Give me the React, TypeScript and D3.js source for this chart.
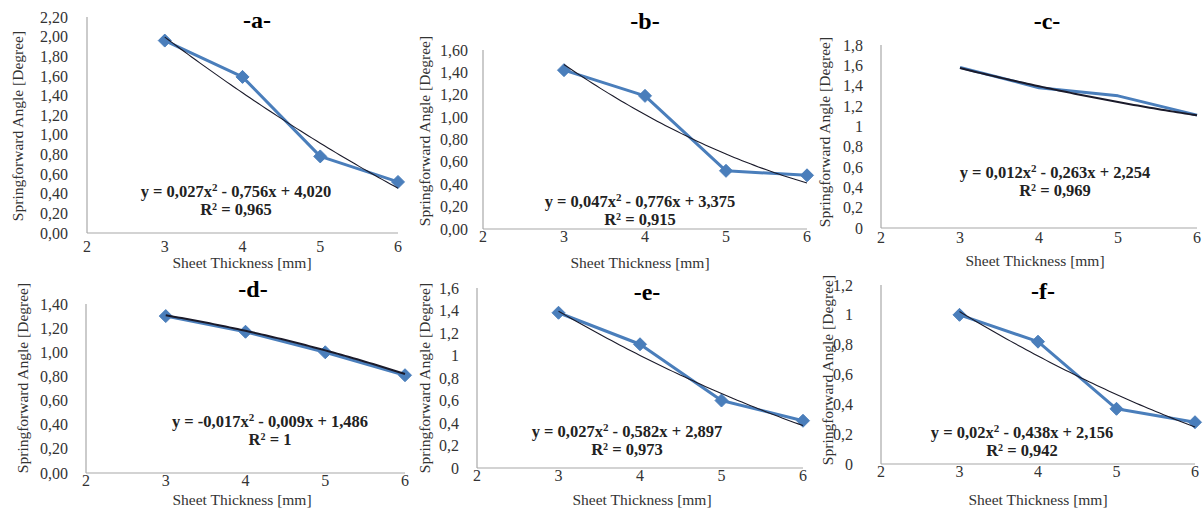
import React from 'react';
import * as d3 from 'd3';

const width = 1203;
const height = 509;

// sheet thickness [mm]
const thickness = [3, 4, 5, 6];
const xTicks = [2, 3, 4, 5, 6];

// springforward angle [degree] per panel
const springA = [1.96, 1.59, 0.78, 0.52];
const springB = [1.42, 1.19, 0.52, 0.48];
const springC = [1.58, 1.38, 1.3, 1.11];
const springD = [1.3, 1.17, 1.0, 0.81];
const springE = [1.38, 1.1, 0.6, 0.42];
const springF = [1.0, 0.82, 0.37, 0.28];

// polynomial trendline coefficients [a, b, c] for y = ax^2 + bx + c
const fitA = [0.027, -0.756, 4.02];
const fitB = [0.047, -0.776, 3.375];
const fitC = [0.012, -0.263, 2.254];
const fitD = [-0.017, -0.009, 1.486];
const fitE = [0.027, -0.582, 2.897];
const fitF = [0.02, -0.438, 2.156];

// equation labels
const eqA = ['y = 0,027x', ' - 0,756x + 4,020', '0,965'];
const eqB = ['y = 0,047x', ' - 0,776x + 3,375', '0,915'];
const eqC = ['y = 0,012x', ' - 0,263x + 2,254', '0,969'];
const eqD = ['y = -0,017x', ' - 0,009x + 1,486', '1'];
const eqE = ['y = 0,027x', ' - 0,582x + 2,897', '0,973'];
const eqF = ['y = 0,02x', ' - 0,438x + 2,156', '0,942'];

// y tick labels
const ticks220 = ['0,00', '0,20', '0,40', '0,60', '0,80', '1,00', '1,20', '1,40', '1,60', '1,80', '2,00', '2,20'];
const ticks160 = ['0,00', '0,20', '0,40', '0,60', '0,80', '1,00', '1,20', '1,40', '1,60'];
const ticks18 = ['0', '0,2', '0,4', '0,6', '0,8', '1', '1,2', '1,4', '1,6', '1,8'];
const ticks140 = ['0,00', '0,20', '0,40', '0,60', '0,80', '1,00', '1,20', '1,40'];
const ticks16 = ['0', '0,2', '0,4', '0,6', '0,8', '1', '1,2', '1,4', '1,6'];
const ticks12 = ['0', '0,2', '0,4', '0,6', '0,8', '1', '1,2'];

const blue = '#4a7ebb';
const axisColor = '#a8a8a8';
const font = '"Liberation Serif", "Times New Roman", serif';

const panels = [
  { name: '-a-', values: springA, fit: fitA, eq: eqA, ticks: ticks220, yMax: 2.2, markers: true, trendW: 1.1,
    x0: 87, x1: 398, top: 17, bottom: 233, tickRight: 68, tickDy: 19, titleX: 257, titleY: 28,
    yLabelX: 18, yLabelY: 126, eqX: 236, eqY: 197, xLabelX: 242, xLabelY: 268 },
  { name: '-b-', values: springB, fit: fitB, eq: eqB, ticks: ticks160, yMax: 1.6, markers: true, trendW: 1.1,
    x0: 483, x1: 807, top: 50, bottom: 229, tickRight: 468, tickDy: 13, titleX: 645, titleY: 29,
    yLabelX: 425, yLabelY: 131, eqX: 640, eqY: 207, xLabelX: 640, xLabelY: 268 },
  { name: '-c-', values: springC, fit: fitC, eq: eqC, ticks: ticks18, yMax: 1.8, markers: false, trendW: 2,
    x0: 881, x1: 1197, top: 45, bottom: 228, tickRight: 863, tickDy: 15, titleX: 1047, titleY: 29,
    yLabelX: 825, yLabelY: 132, eqX: 1055, eqY: 178, xLabelX: 1035, xLabelY: 266 },
  { name: '-d-', values: springD, fit: fitD, eq: eqD, ticks: ticks140, yMax: 1.4, markers: true, trendW: 2,
    x0: 86, x1: 405, top: 304, bottom: 473, tickRight: 68, tickDy: 13, titleX: 253, titleY: 297,
    yLabelX: 23, yLabelY: 378, eqX: 270, eqY: 427, xLabelX: 242, xLabelY: 505 },
  { name: '-e-', values: springE, fit: fitE, eq: eqE, ticks: ticks16, yMax: 1.6, markers: true, trendW: 1.1,
    x0: 477, x1: 803, top: 288, bottom: 468, tickRight: 459, tickDy: 13, titleX: 647, titleY: 300,
    yLabelX: 425, yLabelY: 378, eqX: 627, eqY: 437, xLabelX: 642, xLabelY: 505 },
  { name: '-f-', values: springF, fit: fitF, eq: eqF, ticks: ticks12, yMax: 1.2, markers: true, trendW: 1.1,
    x0: 881, x1: 1195, top: 285, bottom: 464, tickRight: 853, tickDy: 13, titleX: 1043, titleY: 299,
    yLabelX: 828, yLabelY: 370, eqX: 1022, eqY: 438, xLabelX: 1038, xLabelY: 505 },
];

const diamond = 'M0,-6.5L6.5,0L0,6.5L-6.5,0Z';

const Panel = ({ p }: { p: any }) => {
  const x = d3.scaleLinear().domain([2, 6]).range([p.x0, p.x1]);
  const y = d3.scaleLinear().domain([0, p.yMax]).range([p.bottom, p.top]);
  const step = p.yMax / (p.ticks.length - 1);

  const line = d3.line<number>()
    .x((_, i) => x(thickness[i]))
    .y((d) => y(d));

  const [a, b, c] = p.fit;
  const trendXs = d3.range(3, 6.001, 0.05);
  const trend = d3.line<number>()
    .x((t) => x(t))
    .y((t) => y(a * t * t + b * t + c));

  return (
    <g>
      <line x1={p.x0} x2={p.x0} y1={p.top} y2={p.bottom} stroke={axisColor} strokeWidth={1.2} />
      <line x1={p.x0} x2={p.x1} y1={p.bottom} y2={p.bottom} stroke={axisColor} strokeWidth={1.2} />
      {p.ticks.map((t: string, i: number) => (
        <text key={t} x={p.tickRight} y={y(i * step)} dy="0.35em" textAnchor="end"
          fontSize={16} fill="#333">{t}</text>
      ))}
      {xTicks.map((t) => (
        <text key={t} x={x(t)} y={p.bottom + p.tickDy} textAnchor="middle" fontSize={16} fill="#333">{t}</text>
      ))}
      <path d={line(p.values) || ''} fill="none" stroke={blue} strokeWidth={3} strokeLinejoin="round" />
      {p.markers && p.values.map((v: number, i: number) => (
        <path key={i} d={diamond} transform={`translate(${x(thickness[i])},${y(v)})`}
          fill={blue} stroke={blue} strokeWidth={1} strokeLinejoin="round" />
      ))}
      <path d={trend(trendXs) || ''} fill="none" stroke="#1a1a2a" strokeWidth={p.trendW} />
      <text x={p.titleX} y={p.titleY} textAnchor="middle" fontSize={24} fontWeight="bold" fill="#000">{p.name}</text>
      <text transform={`translate(${p.yLabelX},${p.yLabelY}) rotate(-90)`} textAnchor="middle"
        dy="0.35em" fontSize={15.5} fill="#333">Springforward Angle [Degree]</text>
      <text x={p.xLabelX} y={p.xLabelY} textAnchor="middle" fontSize={15.5} fill="#333">Sheet Thickness [mm]</text>
      <text x={p.eqX} y={p.eqY} textAnchor="middle" fontSize={16.5} fontWeight="bold" fill="#222">
        {p.eq[0]}<tspan dy={-6} fontSize={11}>2</tspan><tspan dy={6}>{p.eq[1]}</tspan>
      </text>
      <text x={p.eqX} y={p.eqY + 18} textAnchor="middle" fontSize={16.5} fontWeight="bold" fill="#222">
        R<tspan dy={-5} fontSize={10}>2</tspan><tspan dy={5}>{' = ' + p.eq[2]}</tspan>
      </text>
    </g>
  );
};

const App = () => (
  <svg width={width} height={height} style={{ position: 'absolute', left: 0, top: 0, background: '#fff' }}
    fontFamily={font}>
    {panels.map((p) => <Panel key={p.name} p={p} />)}
  </svg>
);

export default App;
